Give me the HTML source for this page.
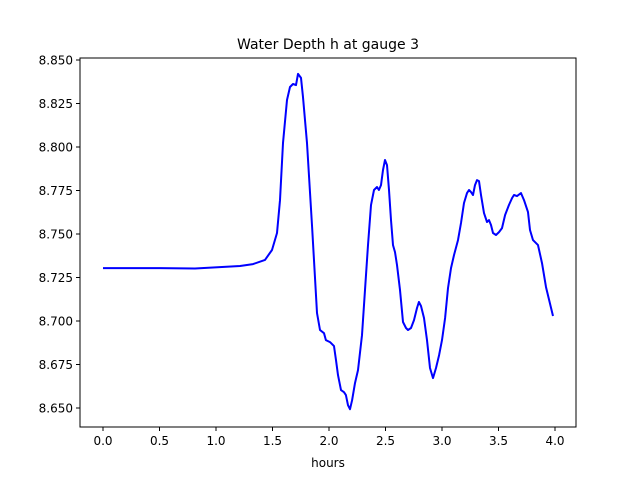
<!DOCTYPE html>
<html><head><meta charset="utf-8"><style>
body{margin:0;background:#fff}
svg{display:block;font-family:"DejaVu Sans","Liberation Sans",sans-serif}
</style></head><body>
<svg id="chart" width="640" height="480">
<rect width="640" height="480" fill="#fff"/>
<text x="328" y="49" font-size="14" text-anchor="middle">Water Depth h at gauge 3</text>
<g id="axes"></g>
<text x="328" y="467" font-size="12" text-anchor="middle">hours</text>
</svg>
<script>
const hours=[0,0.504,0.814,1.212,1.327,1.434,1.496,1.540,1.566,1.593,1.628,1.655,1.681,1.708,1.726,1.752,1.770,1.805,1.850,1.894,1.920,1.956,1.973,2.009,2.044,2.062,2.080,2.106,2.133,2.150,2.168,2.186,2.204,2.230,2.257,2.292,2.319,2.345,2.372,2.398,2.425,2.442,2.460,2.478,2.496,2.513,2.531,2.549,2.566,2.584,2.602,2.628,2.655,2.681,2.699,2.726,2.752,2.779,2.796,2.814,2.841,2.867,2.894,2.920,2.947,2.974,3.000,3.027,3.053,3.080,3.106,3.142,3.168,3.195,3.221,3.239,3.257,3.274,3.292,3.310,3.327,3.345,3.372,3.398,3.416,3.434,3.451,3.478,3.504,3.531,3.558,3.593,3.620,3.637,3.664,3.699,3.726,3.761,3.779,3.805,3.850,3.885,3.920,3.982];
const depth=[8.7304,8.7304,8.7302,8.7316,8.7327,8.7351,8.7408,8.7506,8.7695,8.8023,8.8270,8.8345,8.8362,8.8356,8.8420,8.8397,8.8287,8.8023,8.7540,8.7046,8.6948,8.6930,8.6890,8.6879,8.6856,8.6775,8.6689,8.6603,8.6591,8.6574,8.6516,8.6493,8.6545,8.6643,8.6718,8.6919,8.7178,8.7436,8.7666,8.7753,8.7770,8.7753,8.7781,8.7868,8.7925,8.7896,8.7753,8.7580,8.7436,8.7396,8.7322,8.7178,8.6994,8.6960,8.6948,8.6960,8.7005,8.7075,8.7109,8.7086,8.7017,8.6890,8.6730,8.6672,8.6730,8.6804,8.6890,8.7017,8.7189,8.7304,8.7379,8.7465,8.7563,8.7678,8.7735,8.7753,8.7741,8.7724,8.7781,8.7810,8.7804,8.7724,8.7620,8.7569,8.7580,8.7552,8.7506,8.7494,8.7511,8.7534,8.7609,8.7667,8.7707,8.7724,8.7718,8.7735,8.7695,8.7626,8.7523,8.7465,8.7436,8.7333,8.7195,8.7029];
const xTicks=[0,0.5,1,1.5,2,2.5,3,3.5,4];
const xTickLabels=["0.0","0.5","1.0","1.5","2.0","2.5","3.0","3.5","4.0"];
const yTicks=[8.65,8.675,8.7,8.725,8.75,8.775,8.8,8.825,8.85];
const yTickLabels=["8.650","8.675","8.700","8.725","8.750","8.775","8.800","8.825","8.850"];

const L=80,R=576,T=58,B=427;
const sx=v=>103+v*113;
const sy=v=>408-(v-8.65)/0.2*348;
const NS="http://www.w3.org/2000/svg";
const g=document.getElementById('axes');
function mk(tag,attrs){const e=document.createElementNS(NS,tag);for(const k in attrs)e.setAttribute(k,attrs[k]);g.appendChild(e);return e;}

let d=hours.map((h,i)=>(i?'L':'M')+sx(h).toFixed(1)+','+sy(depth[i]).toFixed(1)).join(' ');
const line=mk('path',{d:d,fill:'none',stroke:'#0000ff','stroke-width':2,'stroke-linejoin':'round'});



const frame=mk('rect',{x:L,y:T,width:R-L,height:B-T,fill:'none',stroke:'#000','stroke-width':1});



xTicks.forEach((v,i)=>{
  const x=sx(v);
  const t=mk('line',{x1:x,x2:x,y1:B,y2:B+4,stroke:'#000'});
  
  
  const lb=mk('text',{x:x,y:B+18,'font-size':12,'text-anchor':'middle'});
  lb.textContent=xTickLabels[i];
  
  
});
yTicks.forEach((v,i)=>{
  const y=sy(v);
  const t=mk('line',{x1:L-4,x2:L,y1:y,y2:y,stroke:'#000'});
  
  
  const lb=mk('text',{x:L-7,y:y+4.5,'font-size':12,'text-anchor':'end'});
  lb.textContent=yTickLabels[i];
  
  
});
</script>
</body></html>
